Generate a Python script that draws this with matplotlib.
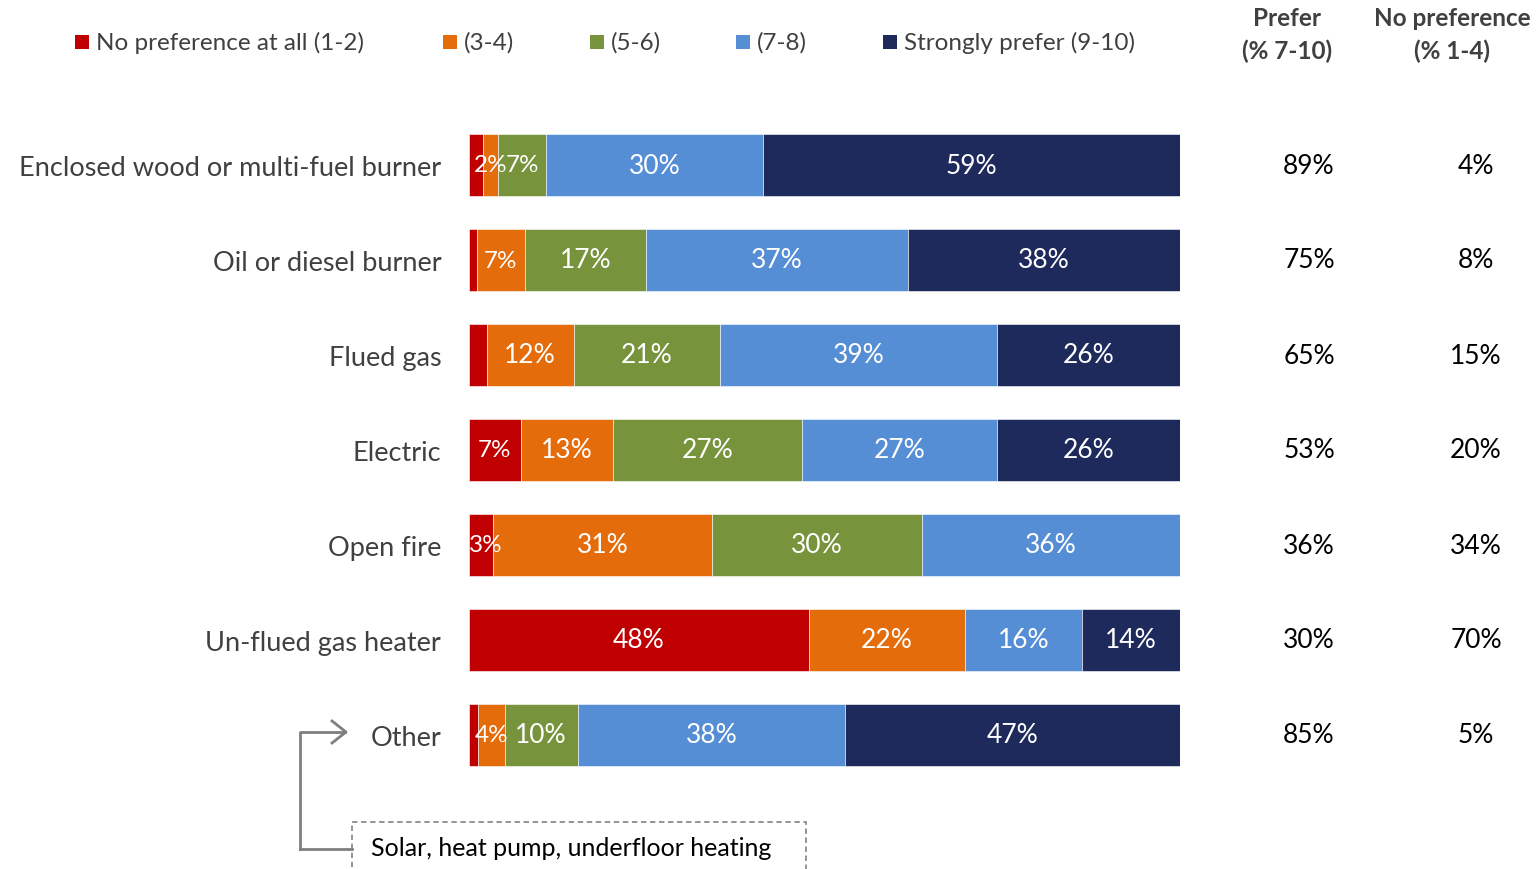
import matplotlib.pyplot as plt
from matplotlib.patches import Rectangle
import numpy as np

plt.rcParams['font.family'] = ['Lato', 'DejaVu Sans']

# data
categories = ['Enclosed wood or multi-fuel burner', 'Oil or diesel burner', 'Flued gas',
              'Electric', 'Open fire', 'Un-flued gas heater', 'Other']
series_names = ['No preference at all (1-2)', '(3-4)', '(5-6)', '(7-8)', 'Strongly prefer (9-10)']
no_pref_12 = [1.9, 1.1, 2.5, 7.3, 3.4, 47.8, 1.3]
pref_34 = [2.2, 6.8, 12.2, 12.9, 30.8, 21.9, 3.7]
pref_56 = [6.8, 17.0, 20.6, 26.7, 29.5, 0.0, 10.3]
pref_78 = [30.4, 36.8, 39.0, 27.3, 36.3, 16.5, 37.6]
pref_910 = [58.7, 38.3, 25.7, 25.8, 0.0, 13.8, 47.1]
prefer_col = ['89%', '75%', '65%', '53%', '36%', '30%', '85%']
nopref_col = ['4%', '8%', '15%', '20%', '34%', '70%', '5%']
# red labels that are not shown in the original
hidden_red = ['Enclosed wood or multi-fuel burner', 'Oil or diesel burner', 'Flued gas', 'Other']

colours = ['#C00000', '#E46C0A', '#77933C', '#558ED5', '#1F2A5C']
grey = '#404040'

W, H = 1539, 870
fig = plt.figure(figsize=(W / 100, H / 100), dpi=100)
ax = fig.add_axes([469 / W, 1 - 783.5 / H, 711 / W, 665 / H])

series = [no_pref_12, pref_34, pref_56, pref_78, pref_910]
y = np.arange(len(categories))
left = np.zeros(len(categories))
for k, vals in enumerate(series):
    vals = np.array(vals)
    ax.barh(y, vals, left=left, height=0.66, color=colours[k], edgecolor='white', linewidth=0.4)
    for i, v in enumerate(vals):
        if v <= 0:
            continue
        if k == 0 and categories[i] in hidden_red:
            continue
        fs = 19 if v >= 8 else 17.5
        ax.text(max(left[i] + v / 2, 2.4), y[i], f'{v:.0f}%', ha='center', va='center',
                color='white', fontsize=fs)
    left += vals

ax.set_xlim(0, 100)
ax.set_ylim(len(categories) - 0.5, -0.5)
ax.set_yticks(y)
ax.set_yticklabels(categories, fontsize=19.5, color=grey)
ax.tick_params(axis='y', length=0, pad=20)
ax.set_xticks([])
for s in ax.spines.values():
    s.set_visible(False)

# right-hand summary columns
for i in range(len(categories)):
    yy = 1 - (166 + 95 * i) / H
    fig.text(1309 / W, yy, prefer_col[i], ha='center', va='center', fontsize=19, color='black')
    fig.text(1476 / W, yy, nopref_col[i], ha='center', va='center', fontsize=19, color='black')
fig.text(1287 / W, 1 - 35 / H, 'Prefer\n(% 7-10)', ha='center', va='center', fontsize=17.5,
         fontweight='bold', color=grey, linespacing=1.45)
fig.text(1452 / W, 1 - 35 / H, 'No preference\n(% 1-4)', ha='center', va='center', fontsize=17.5,
         fontweight='bold', color=grey, linespacing=1.45)

# legend
leg_x = [75, 443, 590, 736, 883]
for x0, name, c in zip(leg_x, series_names, colours):
    fig.patches.append(Rectangle((x0 / W, 1 - 50 / H), 14 / W, 14 / H, transform=fig.transFigure,
                                 facecolor=c, edgecolor='none'))
    fig.text((x0 + 21) / W, 1 - 43 / H, name, ha='left', va='center', fontsize=17.5, color=grey)

# note for "Other"
fig.add_artist(plt.Line2D([300 / W, 300 / W, 345 / W], [1 - 850 / H, 1 - 733 / H, 1 - 733 / H],
                          transform=fig.transFigure, color='#7f7f7f', linewidth=2))
fig.add_artist(plt.Line2D([300 / W, 352 / W], [1 - 850 / H, 1 - 850 / H],
                          transform=fig.transFigure, color='#7f7f7f', linewidth=2))
fig.add_artist(plt.Line2D([332 / W, 346 / W, 332 / W], [1 - 722 / H, 1 - 733 / H, 1 - 744 / H],
                          transform=fig.transFigure, color='#7f7f7f', linewidth=2))
fig.patches.append(Rectangle((352 / W, 1 - 880 / H), 454 / W, 57 / H, transform=fig.transFigure,
                             facecolor='none', edgecolor='#8c8c8c', linestyle=(0, (3, 2)), linewidth=1.3))
fig.text(371 / W, 1 - 849 / H, 'Solar, heat pump, underfloor heating', ha='left', va='center',
         fontsize=18, color='black')

fig.savefig('out.png', dpi=100)
